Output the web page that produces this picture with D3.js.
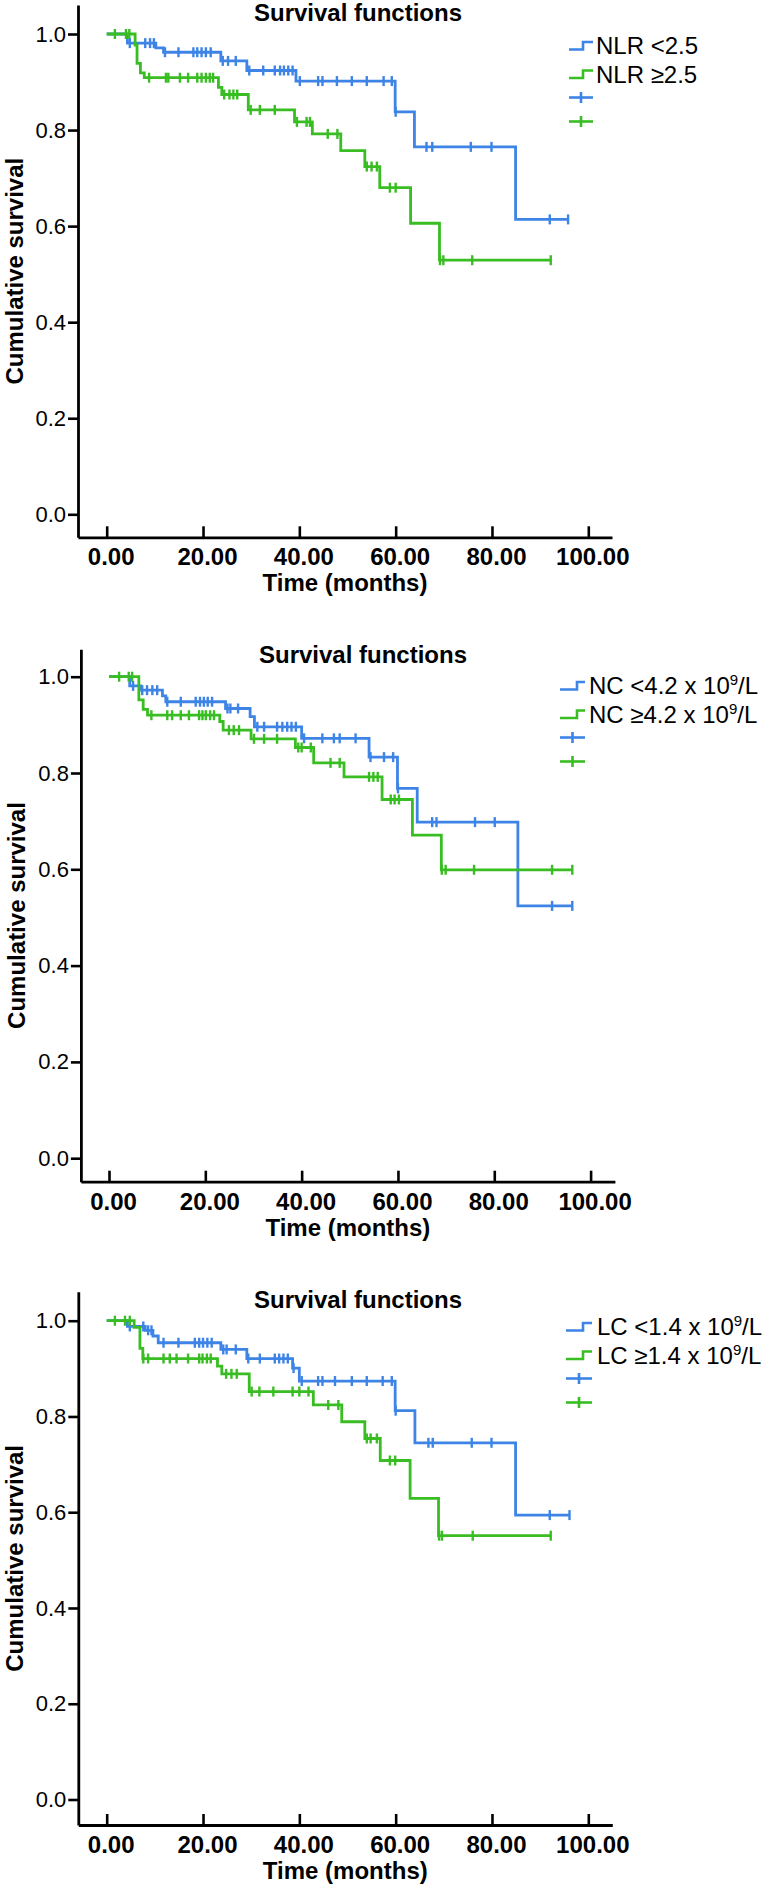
<!DOCTYPE html>
<html><head><meta charset="utf-8">
<script src="https://cdn.jsdelivr.net/npm/d3@7"></script>
<style>
body{margin:0;background:#fff}
svg{display:block;background:#fff}
text{font-family:"Liberation Sans",Arial,Helvetica,sans-serif;fill:#000}
</style>
</head><body>
<svg id="c" width="767" height="1891"></svg>
<script>
// ---------- DATA ----------
const xTickValues = [0, 20, 40, 60, 80, 100];
const xTickLabels = ["0.00", "20.00", "40.00", "60.00", "80.00", "100.00"];
const yTickValues = [0, 0.2, 0.4, 0.6, 0.8, 1.0];
const yTickLabels = ["0.0", "0.2", "0.4", "0.6", "0.8", "1.0"];
const chartTitle = "Survival functions";
const xAxisTitle = "Time (months)";
const yAxisTitle = "Cumulative survival";

// Panel 1: NLR
const nlrLabels = ["NLR <2.5", "NLR \u22652.5"];
const nlrLowStepT = [0, 4.3, 10.2, 11.8, 23.7, 29.1, 39.3, 59.9, 63.9, 84.9];
const nlrLowStepS = [1, 0.981, 0.971, 0.962, 0.944, 0.924, 0.902, 0.838, 0.765, 0.614];
const nlrLowCens = [4.8, 8.0, 9.0, 9.8, 12.1, 14.9, 18.0, 18.8, 19.7, 20.6, 21.6, 24.1, 25.2, 26.8, 29.6, 32.5, 34.9, 36.0, 36.8, 37.7, 38.6, 40.1, 43.9, 44.8, 47.8, 50.9, 54.0, 57.5, 59.2, 60.0, 66.4, 67.6, 75.6, 79.9, 92.0, 95.8];
const nlrHighStepT = [0, 5.9, 6.3, 7.0, 7.8, 23.2, 23.9, 29.4, 39.0, 42.7, 48.6, 53.6, 56.7, 63.1, 69.1];
const nlrHighStepS = [1, 0.977, 0.939, 0.919, 0.909, 0.889, 0.874, 0.842, 0.817, 0.792, 0.757, 0.724, 0.680, 0.606, 0.529];
const nlrHighCens = [1.7, 4.0, 4.7, 8.8, 12.3, 12.8, 15.2, 16.9, 18.8, 19.7, 20.6, 21.4, 22.1, 24.4, 25.5, 26.3, 27.1, 29.9, 31.8, 34.9, 39.5, 41.5, 42.2, 45.9, 47.9, 54.0, 55.0, 56.1, 58.8, 60.0, 69.2, 69.9, 75.9, 92.2];

// Panel 2: NC
const ncLabels = ["NC <4.2 x 10^9/L", "NC \u22654.2 x 10^9/L"];
const ncLowStepT = [0, 4.3, 6.6, 11.1, 11.8, 24.2, 29.3, 30.2, 40.0, 54.0, 59.9, 64.0, 84.9];
const ncLowStepS = [1, 0.981, 0.972, 0.960, 0.948, 0.934, 0.917, 0.896, 0.872, 0.833, 0.768, 0.698, 0.524];
const ncLowCens = [5.0, 6.9, 7.9, 9.0, 10.0, 12.1, 14.9, 18.0, 18.9, 19.7, 20.5, 21.4, 24.6, 25.2, 26.8, 30.8, 32.2, 34.9, 36.0, 37.0, 37.9, 38.8, 40.5, 44.3, 46.7, 47.9, 51.2, 54.3, 57.1, 59.0, 60.0, 67.1, 68.0, 76.0, 80.1, 92.0, 96.2];
const ncHighStepT = [0, 6.2, 7.1, 8.0, 23.0, 23.7, 29.5, 38.7, 42.5, 48.8, 56.7, 63.0, 69.0];
const ncHighStepS = [1, 0.952, 0.932, 0.920, 0.907, 0.889, 0.871, 0.853, 0.821, 0.792, 0.745, 0.671, 0.599];
const ncHighCens = [2.1, 4.1, 4.8, 8.8, 12.1, 13.1, 14.9, 16.6, 18.7, 19.4, 20.1, 21.0, 21.8, 24.9, 25.9, 27.0, 30.1, 32.2, 34.9, 39.3, 40.0, 41.9, 46.0, 47.9, 54.0, 54.9, 55.8, 58.5, 59.3, 60.2, 69.1, 69.9, 75.8, 92.0, 96.2];

// Panel 3: LC
const lcLabels = ["LC <1.4 x 10^9/L", "LC \u22651.4 x 10^9/L"];
const lcLowStepT = [0, 4.3, 8.0, 9.6, 10.7, 23.7, 29.1, 38.6, 40.0, 59.9, 64.0, 84.9];
const lcLowStepS = [1, 0.988, 0.980, 0.968, 0.954, 0.940, 0.921, 0.901, 0.874, 0.812, 0.745, 0.594];
const lcLowCens = [4.8, 7.6, 8.6, 9.3, 11.8, 14.9, 18.3, 19.2, 20.0, 20.9, 21.8, 24.2, 24.9, 26.8, 29.4, 31.8, 34.9, 35.8, 36.7, 37.6, 38.8, 40.5, 43.9, 44.8, 47.4, 50.9, 54.0, 57.3, 59.2, 60.0, 66.8, 67.7, 75.8, 79.9, 92.0, 96.1];
const lcHighStepT = [0, 5.7, 6.9, 7.5, 23.0, 23.9, 29.6, 42.9, 48.8, 53.6, 56.8, 63.0, 68.9];
const lcHighStepS = [1, 0.986, 0.942, 0.921, 0.905, 0.889, 0.852, 0.824, 0.789, 0.754, 0.708, 0.629, 0.551];
const lcHighCens = [1.7, 3.8, 4.8, 7.6, 8.6, 11.8, 13.1, 14.5, 16.9, 19.2, 19.9, 20.8, 21.6, 24.8, 25.9, 27.0, 30.1, 31.7, 34.6, 38.6, 40.0, 41.9, 46.0, 48.1, 54.0, 54.8, 56.1, 58.8, 59.9, 69.0, 69.6, 76.0, 92.2];

const seriesColors = ["#3d84e6", "#38bd22"];

// ---------- LAYOUT ----------
const panels = [
  {labels: nlrLabels, series: [[nlrLowStepT, nlrLowStepS, nlrLowCens], [nlrHighStepT, nlrHighStepS, nlrHighCens]],
   ox: 78, x0: 106.7, top: 5, y1: 34, y0: 514.3, axY: 537.3, titleX: 358, titleY: 21, ytX: 23,
   legX: 569, legStep: 583, legEnd: 593, legTextX: 596, legBase: 54},
  {labels: ncLabels, series: [[ncLowStepT, ncLowStepS, ncLowCens], [ncHighStepT, ncHighStepS, ncHighCens]],
   ox: 80.9, x0: 109, top: 649.3, y1: 676.7, y0: 1158.2, axY: 1181.7, titleX: 363, titleY: 663, ytX: 25,
   legX: 560, legStep: 577, legEnd: 585, legTextX: 589, legBase: 694},
  {labels: lcLabels, series: [[lcLowStepT, lcLowStepS, lcLowCens], [lcHighStepT, lcHighStepS, lcHighCens]],
   ox: 78.3, x0: 106.7, top: 1291.7, y1: 1320.7, y0: 1799.5, axY: 1825, titleX: 358, titleY: 1308.3, ytX: 23,
   legX: 566, legStep: 583, legEnd: 592, legTextX: 597, legBase: 1335}
];

const svg = d3.select("#c");
svg.append("rect").attr("width", 767).attr("height", 1891).attr("fill", "#fff");

function survAt(T, S, t) {
  let i = d3.bisectRight(T, t) - 1;
  if (i < 0) i = 0;
  return S[i];
}

function addLabel(sel, str) {
  const parts = str.split("^");
  sel.text(null);
  sel.append("tspan").text(parts[0]);
  if (parts.length > 1) {
    sel.append("tspan").attr("dy", -9).attr("font-size", 15).text(parts[1].charAt(0));
    sel.append("tspan").attr("dy", 9).text(parts[1].slice(1));
  }
}

panels.forEach(p => {
  const g = svg.append("g");
  const pxPerMonth = 4.816;
  const x = d3.scaleLinear().domain([0, 100]).range([p.x0, p.x0 + 100 * pxPerMonth]);
  const y = d3.scaleLinear().domain([0, 1]).range([p.y0, p.y1]);
  const xAxisEnd = p.ox + 534;

  const xa = d3.scaleLinear().domain([x.invert(p.ox), x.invert(xAxisEnd)]).range([p.ox, xAxisEnd]);
  const ya = d3.scaleLinear().domain([y.invert(p.axY), y.invert(p.top)]).range([p.axY, p.top]);

  const gx = g.append("g").attr("transform", `translate(0,${p.axY})`)
    .call(d3.axisBottom(xa).tickValues(xTickValues).tickFormat((d, i) => xTickLabels[i])
      .tickSize(-11).tickSizeOuter(0));
  gx.select(".domain").attr("stroke", "#000").attr("stroke-width", 2.8);
  gx.selectAll(".tick line").attr("stroke", "#000").attr("stroke-width", 2.6);
  gx.selectAll(".tick text").attr("y", 28).attr("dy", 0).attr("dx", 4)
    .attr("font-size", 24).attr("font-weight", "bold")
    .attr("font-family", "'Liberation Sans', Arial, Helvetica, sans-serif").attr("fill", "#000");

  const gy = g.append("g").attr("transform", `translate(${p.ox},0)`)
    .call(d3.axisLeft(ya).tickValues(yTickValues).tickFormat((d, i) => yTickLabels[i])
      .tickSize(10).tickPadding(2).tickSizeOuter(0));
  gy.select(".domain").attr("stroke", "#000").attr("stroke-width", 2.8);
  gy.selectAll(".tick line").attr("stroke", "#000").attr("stroke-width", 2.6);
  gy.selectAll(".tick text").attr("font-size", 22)
    .attr("font-family", "'Liberation Sans', Arial, Helvetica, sans-serif").attr("fill", "#000");

  g.append("text").attr("x", p.titleX).attr("y", p.titleY).attr("text-anchor", "middle")
    .attr("font-size", 24).attr("font-weight", "bold").text(chartTitle);
  g.append("text").attr("x", (p.ox + xAxisEnd) / 2).attr("y", p.axY + 54).attr("text-anchor", "middle")
    .attr("font-size", 24).attr("font-weight", "bold").text(xAxisTitle);
  g.append("text").attr("transform", `translate(${p.ytX},${(p.top + p.axY) / 2}) rotate(-90)`)
    .attr("text-anchor", "middle").attr("font-size", 24).attr("font-weight", "bold").text(yAxisTitle);

  const line = d3.line().x(d => x(d[0])).y(d => y(d[1])).curve(d3.curveStepAfter);
  p.series.forEach((s, si) => {
    const [T, S, C] = s;
    const end = Math.max(T[T.length - 1], d3.max(C));
    const pts = T.map((t, i) => [t, S[i]]);
    pts.push([end, S[S.length - 1]]);
    g.append("path").datum(pts).attr("d", line).attr("fill", "none")
      .attr("stroke", seriesColors[si]).attr("stroke-width", 2.8).attr("stroke-linejoin", "miter");
    g.append("g").selectAll("line").data(C).join("line")
      .attr("x1", d => x(d)).attr("x2", d => x(d))
      .attr("y1", d => y(survAt(T, S, d)) - 5).attr("y2", d => y(survAt(T, S, d)) + 5)
      .attr("stroke", seriesColors[si]).attr("stroke-width", 2.4);
  });

  const rowOff = [0, 28.5];
  p.labels.forEach((lab, i) => {
    const b = p.legBase + rowOff[i];
    g.append("path")
      .attr("d", `M${p.legX},${b - 4.5}H${p.legStep}V${b - 12}H${p.legEnd}`)
      .attr("fill", "none").attr("stroke", seriesColors[i]).attr("stroke-width", 2.6);
    const t = g.append("text").attr("x", p.legTextX).attr("y", b).attr("font-size", 24);
    addLabel(t, lab);
  });
  const crossOff = [43.5, 67.5];
  crossOff.forEach((o, i) => {
    const yc = p.legBase + o;
    const xc = (p.legX + p.legEnd) / 2;
    g.append("line").attr("x1", p.legX).attr("x2", p.legEnd).attr("y1", yc).attr("y2", yc)
      .attr("stroke", seriesColors[i]).attr("stroke-width", 2.6);
    g.append("line").attr("x1", xc).attr("x2", xc).attr("y1", yc - 5.5).attr("y2", yc + 5.5)
      .attr("stroke", seriesColors[i]).attr("stroke-width", 2.6);
  });
});
</script>
</body></html>
